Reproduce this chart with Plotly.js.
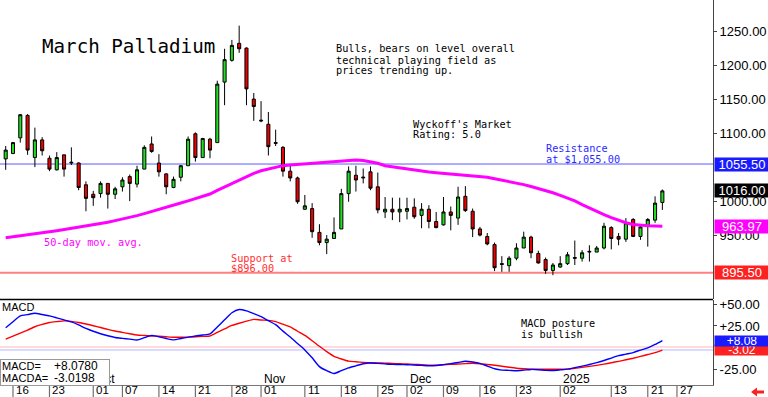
<!DOCTYPE html>
<html><head><meta charset="utf-8">
<script src="https://cdn.plot.ly/plotly-3.0.1.min.js"></script>
<style>html,body{margin:0;padding:0;background:#fff}#chart{width:768px;height:397px}</style>
</head><body><div id="chart"></div>
<script>
// ---------------- DATA ----------------
const dates = [
'2024-09-13',
'2024-09-16','2024-09-17','2024-09-18','2024-09-19','2024-09-20',
'2024-09-23','2024-09-24','2024-09-25','2024-09-26','2024-09-27',
'2024-09-30',
'2024-10-01','2024-10-02','2024-10-03','2024-10-04',
'2024-10-07','2024-10-08','2024-10-09','2024-10-10','2024-10-11',
'2024-10-14','2024-10-15','2024-10-16','2024-10-17','2024-10-18',
'2024-10-21','2024-10-22','2024-10-23','2024-10-24','2024-10-25',
'2024-10-28','2024-10-29','2024-10-30','2024-10-31',
'2024-11-01',
'2024-11-04','2024-11-05','2024-11-06','2024-11-07','2024-11-08',
'2024-11-11','2024-11-12','2024-11-13','2024-11-14','2024-11-15',
'2024-11-18','2024-11-19','2024-11-20','2024-11-21','2024-11-22',
'2024-11-25','2024-11-26','2024-11-27','2024-11-29',
'2024-12-02','2024-12-03','2024-12-04','2024-12-05','2024-12-06',
'2024-12-09','2024-12-10','2024-12-11','2024-12-12','2024-12-13',
'2024-12-16','2024-12-17','2024-12-18','2024-12-19','2024-12-20',
'2024-12-23','2024-12-24','2024-12-26','2024-12-27',
'2024-12-30','2024-12-31',
'2025-01-02','2025-01-03',
'2025-01-06','2025-01-07','2025-01-08','2025-01-09','2025-01-10',
'2025-01-13','2025-01-14','2025-01-15','2025-01-16','2025-01-17',
'2025-01-21','2025-01-22','2025-01-23'];
const futureDates = ['2025-01-24','2025-01-27'];

const openPx = [1063,1071,1094,1127,1065,1091,1064,1047,1069,1057,
1057,1025,1011,1012,1027,1011,1022,1037,1026,1048,
1085,1057,1041,1021,1036,1053,1100,1065,1092,1087,
1176,1208,1233,1226,1151,1120,1114,1087,1080,1045,
1035,989,990,955,940,946,960,1012,1039,1035,
1044,1022,985,989,985,986,992,980,989,971,
966,985,976,1008,986,960,949,937,909,906,
917,932,948,924,915,899,904,909,918,917,
926,926,932,962,949,945,974,949,964,973,
999];
const highPx = [1082,1088,1129,1129,1109,1095,1068,1073,1069,1080,
1058,1030,1016,1030,1027,1022,1036,1040,1053,1083,
1096,1070,1042,1037,1054,1096,1102,1094,1094,1178,
1225,1238,1259,1227,1160,1148,1132,1106,1082,1053,
1037,1010,998,967,951,977,1019,1052,1053,1049,
1052,1043,1007,1006,1006,1006,1005,998,995,985,
1007,993,1022,1023,990,963,954,940,920,920,
939,956,950,928,918,910,920,926,943,929,
936,935,969,964,954,976,976,966,976,1008,
1018];
const lowPx = [1047,1070,1087,1069,1051,1068,1045,1046,1037,1054,
1017,986,994,1006,990,1004,1015,1001,1021,1048,
1072,1037,1011,1020,1030,1053,1059,1065,1064,1087,
1142,1206,1219,1142,1119,1117,1068,1082,1037,1030,
997,988,947,936,923,946,960,1000,1015,1027,
1017,983,976,973,970,974,975,961,961,961,
965,958,966,985,948,949,936,898,897,897,
914,932,917,909,894,892,903,907,907,912,
912,926,930,930,936,941,948,944,934,969,
988];
const closePx = [1076,1087,1128,1076,1091,1075,1048,1065,1048,1058,
1021,1005,1006,1027,1011,1019,1032,1027,1047,1080,
1074,1044,1022,1033,1053,1092,1065,1093,1076,1173,
1209,1230,1225,1166,1140,1119,1081,1086,1045,1035,
1000,994,956,940,945,955,1012,1045,1032,1036,
1020,988,989,985,989,990,978,989,971,962,
985,980,1007,987,960,951,938,903,908,917,
932,948,925,910,899,907,909,922,917,925,
927,932,964,946,945,969,949,963,974,998,
1016];
const ma50 = [947.2,948.5,949.8,951.1,952.4,954.2,955.9,957.5,959.2,960.9,
962.5,964.1,965.8,967.4,969.8,972.2,974.5,976.9,979.6,982.6,
985.5,988.5,991.5,994.8,998.1,1001.4,1004.8,1008.1,1011.4,1016.8,
1021.8,1027.3,1032.4,1037.2,1041.7,1045.6,1048.0,1050.7,1053.1,1053.9,
1054.7,1055.5,1056.3,1057.1,1057.9,1058.7,1059.6,1060.5,1061.3,1060.8,
1059.2,1056.6,1053.0,1051.3,1049.6,1047.9,1046.3,1045.1,1043.8,1042.8,
1041.9,1040.9,1040.0,1039.1,1038.1,1037.2,1036.0,1033.9,1031.8,1029.7,
1027.7,1025.2,1022.4,1019.7,1017.0,1013.2,1009.3,1005.5,1001.2,995.8,
990.5,985.5,981.1,976.6,972.6,969.1,966.7,965.5,964.6,964.2,
963.97];
const macdLine = [23.0,29.9,36.7,38.2,39.8,38.3,36.7,34.4,32.1,29.7,
26.2,22.2,18.9,16.0,13.6,11.6,10.6,9.7,8.7,11.4,
14.1,12.4,10.5,8.8,10.5,12.1,13.3,14.5,15.7,23.9,
32.1,40.4,44.1,42.5,39.4,35.8,31.1,26.5,19.0,12.3,
4.6,-2.8,-12.0,-22.2,-27.0,-30.3,-26.9,-23.7,-21.3,-18.9,
-18.0,-18.5,-19.1,-19.6,-19.8,-20.1,-20.4,-20.8,-21.3,-21.0,
-19.9,-18.7,-17.4,-16.0,-16.8,-18.4,-21.6,-24.7,-26.3,-26.6,
-27.0,-26.3,-25.5,-25.8,-26.6,-26.7,-26.0,-25.2,-23.4,-21.7,
-19.8,-17.6,-15.1,-12.3,-9.5,-7.7,-5.9,-3.0,-0.5,3.5,
8.078];
const macdSignal = [9.8,13.2,16.7,20.3,24.1,26.8,29.1,30.1,30.9,30.4,
29.0,27.3,25.3,23.2,21.0,19.1,17.5,16.0,14.5,14.0,
13.4,13.0,12.4,11.9,11.9,12.0,12.4,12.9,13.4,17.5,
21.5,25.6,28.2,30.6,32.7,31.9,31.5,30.1,27.1,24.0,
18.9,14.0,7.9,1.4,-4.8,-10.3,-13.4,-15.9,-16.6,-17.3,
-17.8,-18.0,-18.2,-18.5,-18.9,-19.2,-19.6,-20.1,-20.5,-20.5,
-20.1,-19.6,-19.2,-18.8,-18.4,-18.9,-19.8,-20.6,-21.8,-23.0,
-24.1,-24.7,-25.2,-25.3,-25.3,-25.3,-25.3,-25.2,-24.2,-23.1,
-22.0,-20.8,-19.4,-17.7,-16.1,-14.3,-12.5,-10.4,-8.2,-6.0,
-3.0198];
const tickDates = ['2024-09-16','2024-09-23','2024-10-01','2024-10-07','2024-10-14','2024-10-21','2024-10-28',
'2024-11-01','2024-11-11','2024-11-18','2024-11-25','2024-12-02','2024-12-09','2024-12-16','2024-12-23',
'2025-01-02','2025-01-13','2025-01-21','2025-01-27'];
const monthDates = ['2024-10-01','2024-11-01','2024-12-02','2025-01-02'];
const monthText = ['Oct','Nov','Dec','2025'];
const priceTicks = [950,1000,1100,1150,1200,1250];
const macdTicks = [50,25,-25];
const resistanceLevel = 1055.5;
const supportLevel = 895.5;
const lastClose = 1016.00;
const lastMA = 963.97;
const lastMacd = 8.0780;
const lastSignal = -3.0198;
const macdRefRed = 0.6;
const macdRefBlue = -2.9;

// ---------------- BUILD ----------------
const allDates = dates.concat(futureDates);
const pos = d => allDates.indexOf(d);
const xs = dates.map((d, i) => i);
const tickPos = tickDates.map(pos);
const tickText = tickDates.map(d => d.slice(8));

const PW = 713, PH = 385;
const px = x => x / PW;
const py = y => 1 - y / PH;
const MONO = 'DejaVu Sans Mono, monospace';
const SANS = 'Liberation Sans, Arial, sans-serif';

const traces = [
  {type: 'candlestick', x: xs, open: openPx, high: highPx, low: lowPx, close: closePx,
   xaxis: 'x', yaxis: 'y', whiskerwidth: 0, hoverinfo: 'skip', showlegend: false,
   increasing: {line: {color: '#000', width: 1}, fillcolor: '#22dd22'},
   decreasing: {line: {color: '#000', width: 1}, fillcolor: '#ee0000'}},
  {type: 'scatter', mode: 'lines', x: xs, y: ma50, xaxis: 'x', yaxis: 'y',
   line: {color: '#ff00ff', width: 3}, hoverinfo: 'skip', showlegend: false},
  {type: 'scatter', mode: 'lines', x: xs, y: macdSignal, xaxis: 'x', yaxis: 'y2',
   line: {color: '#ff0000', width: 1.4, shape: 'spline', smoothing: 0.6}, hoverinfo: 'skip', showlegend: false},
  {type: 'scatter', mode: 'lines', x: xs, y: macdLine, xaxis: 'x', yaxis: 'y2',
   line: {color: '#0000ff', width: 1.4, shape: 'spline', smoothing: 0.6}, hoverinfo: 'skip', showlegend: false}
];

function txt(text, x, y, color, size, family, extra) {
  return Object.assign({text: text, xref: 'paper', yref: 'paper', x: px(x), y: py(y),
    xanchor: 'left', yanchor: 'middle', showarrow: false,
    font: {family: family || MONO, size: size || 10.25, color: color || '#000'}}, extra || {});
}
function valBox(text, yv, yref, bg, h, fs) {
  return {text: text, xref: 'paper', x: 1, xanchor: 'left', xshift: 1, yref: yref, y: yv,
    yanchor: 'middle', showarrow: false, width: 52, height: h || 11, bgcolor: bg, borderpad: 1,
    align: 'center', font: {family: SANS, size: fs || 13, color: '#fff'}};
}

const annotations = [
  txt('March Palladium', 40, 46, '#000', 19.2),
  txt('Bulls, bears on level overall', 334, 48.5),
  txt('technical playing field as', 334, 59.5),
  txt('prices trending up.', 334, 70),
  txt("Wyckoff's Market", 411, 123.5),
  txt('Rating: 5.0', 411, 134),
  txt('Resistance', 544, 148, '#2a2aff'),
  txt('at $1,055.00', 544, 158.5, '#2a2aff'),
  txt('50-day mov. avg.', 42, 242, '#ff00ff'),
  txt('Support at', 229, 257.5, '#ff3030'),
  txt('$896.00', 229, 268, '#ff3030'),
  txt('MACD posture', 519, 323),
  txt('is bullish', 519, 334),
  txt('MACD', 0, 306.5, '#000', 11, SANS)
];
monthDates.forEach((d, i) => {
  annotations.push({text: monthText[i], xref: 'x', x: pos(d), xanchor: 'left', xshift: 1,
    yref: 'paper', y: py(378.5), yanchor: 'middle', showarrow: false,
    font: {family: SANS, size: 12, color: '#000'}});
});
// x tick labels (drawn right of each separator)
tickPos.forEach((p, i) => {
  annotations.push({text: tickText[i], xref: 'x', x: p, xanchor: 'left', xshift: 2,
    yref: 'paper', y: py(397), yanchor: 'bottom', borderpad: 0, showarrow: false,
    font: {family: SANS, size: 11.5, color: '#000'}});
});
// value box bottom-left
annotations.push({text: ' ', xref: 'paper', yref: 'paper', x: 0, y: py(359), xanchor: 'left', yanchor: 'top',
  width: 106, height: 23, bgcolor: '#fff', bordercolor: '#999', borderwidth: 1, borderpad: 1, showarrow: false});
annotations.push(txt('MACD=', 0, 365.5, '#000', 11, SANS));
annotations.push(txt('MACDA=', 0, 377.5, '#000', 11, SANS));
annotations.push(txt((lastMacd >= 0 ? '+' : '') + lastMacd.toFixed(4), 52, 365.5, '#000', 12, SANS));
annotations.push(txt((lastSignal >= 0 ? '+' : '') + lastSignal.toFixed(4), 52, 377.5, '#000', 12, SANS));
// right value boxes
annotations.push(valBox(resistanceLevel.toFixed(2), resistanceLevel, 'y', '#1a1aff'));
annotations.push(valBox(lastClose.toFixed(2), lastClose, 'y', '#000000'));
annotations.push(valBox(lastMA.toFixed(2), lastMA, 'y', '#ff00ff'));
annotations.push(valBox(supportLevel.toFixed(2), supportLevel, 'y', '#ff2020'));
annotations.push(valBox((lastSignal >= 0 ? '+' : '') + lastSignal.toFixed(2), lastSignal, 'y2', '#ff2020', 8, 12));
annotations.push(valBox((lastMacd >= 0 ? '+' : '') + lastMacd.toFixed(2), lastMacd, 'y2', '#1a1aff', 8, 12));

const shapes = [
  {type: 'line', xref: 'paper', x0: 0, x1: 1, yref: 'y', y0: resistanceLevel, y1: resistanceLevel,
   line: {color: '#5a5aff', width: 1}, layer: 'below'},
  {type: 'line', xref: 'paper', x0: 0, x1: 1, yref: 'y', y0: supportLevel, y1: supportLevel,
   line: {color: '#ff8080', width: 2}, layer: 'below'},
  {type: 'line', xref: 'paper', x0: 0, x1: 1, yref: 'y2', y0: macdRefRed, y1: macdRefRed,
   line: {color: '#ffb8b8', width: 1}, layer: 'below'},
  {type: 'line', xref: 'paper', x0: 0, x1: 1, yref: 'y2', y0: macdRefBlue, y1: macdRefBlue,
   line: {color: '#b8b8ff', width: 1}, layer: 'below'},
  {type: 'line', xref: 'paper', x0: 0, x1: 1, yref: 'paper', y0: py(299.5), y1: py(299.5),
   line: {color: '#000', width: 1.5}},
  {type: 'path', xref: 'paper', yref: 'paper', fillcolor: '#ff2020', line: {width: 0},
   path: 'M' + px(751) + ',' + py(392) + ' L' + px(757) + ',' + py(387.5) + ' L' + px(757) + ',' + py(390.5) +
         ' L' + px(764) + ',' + py(390.5) + ' L' + px(764) + ',' + py(393.5) + ' L' + px(757) + ',' + py(393.5) +
         ' L' + px(757) + ',' + py(396.5) + ' Z'}
];
tickPos.forEach(p => {
  shapes.push({type: 'line', xref: 'x', x0: p, x1: p, yref: 'paper', y0: py(397), y1: py(385),
    line: {color: '#707070', width: 1.2}});
});

const layout = {
  width: 768, height: 397,
  margin: {l: 0, r: 55, t: 0, b: 12, pad: 0},
  paper_bgcolor: '#fff', plot_bgcolor: '#fff',
  showlegend: false, boxgap: 0.4,
  xaxis: {domain: [0, 1], range: [-0.78, 96.94], anchor: 'y2', showgrid: false, zeroline: false,
    showline: true, linecolor: '#777', linewidth: 1, ticks: '', showticklabels: false,
    rangeslider: {visible: false}, fixedrange: true},
  yaxis: {domain: [1 - 299 / PH, 1], range: [857.0, 1296.7], side: 'right', anchor: 'x',
    showgrid: false, zeroline: false, showline: true, linecolor: '#444', linewidth: 1,
    ticks: 'outside', ticklen: 3, tickcolor: '#444',
    tickmode: 'array', tickvals: priceTicks, ticktext: priceTicks.map(v => v.toFixed(2)),
    tickfont: {family: SANS, size: 13, color: '#000'}, fixedrange: true},
  yaxis2: {domain: [0, 1 - 300 / PH], range: [-43.6, 55.2], side: 'right', anchor: 'x',
    showgrid: false, zeroline: false, showline: true, linecolor: '#444', linewidth: 1,
    ticks: 'outside', ticklen: 3, tickcolor: '#444',
    tickmode: 'array', tickvals: macdTicks, ticktext: macdTicks.map(v => (v > 0 ? '+' : '') + v.toFixed(2)),
    tickfont: {family: SANS, size: 13, color: '#000'}, fixedrange: true},
  annotations: annotations,
  shapes: shapes
};

Plotly.newPlot('chart', traces, layout, {staticPlot: true, displayModeBar: false});
</script>
</body></html>
